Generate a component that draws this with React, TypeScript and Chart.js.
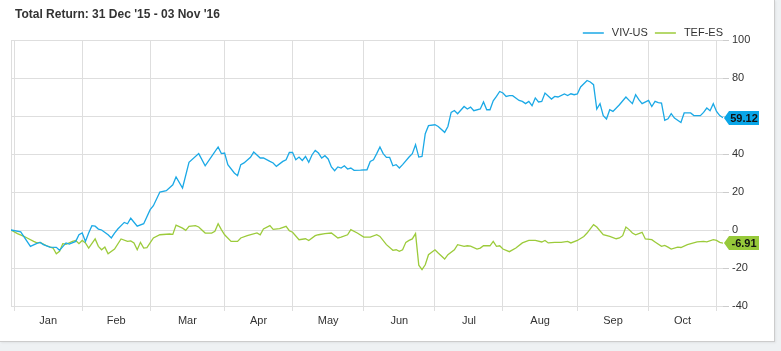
import { useEffect, useRef } from 'react';
import { Chart, registerables } from 'chart.js';

Chart.register(...registerables);

const chartTitle = "Total Return: 31 Dec '15 - 03 Nov '16";
const seriesNames = ['VIV-US', 'TEF-ES'];
const monthLabels = ['Jan', 'Feb', 'Mar', 'Apr', 'May', 'Jun', 'Jul', 'Aug', 'Sep', 'Oct'];
// trading-day index of the first trading day of each month (day 0 = 31 Dec '15)
const monthStartDays = [1, 22, 43, 66, 87, 109, 131, 152, 175, 197, 218];
const lastDay = 220;
const yMin = -40;
const yMax = 100;
const yStep = 20;

const vivDays = [
  0, 3, 6, 8, 9, 10, 12, 14, 15, 17,
  18, 20, 21, 22, 23, 24, 25, 26, 27, 28,
  30, 31, 32, 33, 35, 36, 37, 39, 41, 43,
  44, 46, 48, 50, 51, 53, 55, 58, 60, 62,
  64, 65, 66, 67, 69, 70, 71, 72, 74, 75,
  77, 78, 80, 81, 82, 84, 85, 86, 87, 88,
  89, 90, 91, 92, 93, 94, 95, 96, 97, 98,
  99, 100, 101, 102, 103, 104, 105, 106, 108, 110,
  111, 112, 113, 114, 115, 116, 117, 118, 119, 120,
  121, 123, 124, 125, 126, 127, 128, 129, 131, 132,
  134, 135, 136, 137, 138, 140, 141, 142, 143, 145,
  146, 147, 148, 149, 150, 151, 152, 153, 154, 155,
  157, 158, 159, 160, 161, 162, 163, 164, 165, 167,
  168, 169, 171, 172, 173, 174, 175, 176, 178, 179,
  180, 181, 182, 183, 184, 185, 186, 188, 190, 191,
  192, 193, 194, 195, 197, 198, 199, 200, 201, 202,
  203, 204, 205, 207, 208, 210, 211, 213, 214, 215,
  216, 217, 218, 219, 220,
];
const vivValues = [
  0, -1, -8.6, -7, -6.5, -7.7, -9, -9.1, -10.7, -6.8,
  -7.4, -6, -2.5, -1.6, -6, -1.6, 2.3, 2.0, 0.5, 0,
  -2.5, -4.2, -1.6, 0.5, 4, 3.3, 6.2, 2, 3.3, 10.7,
  12.8, 20, 20.7, 23.8, 27.9, 22.1, 35.6, 40.2, 33.8, 38.7,
  43.7, 40.2, 40.5, 34.4, 30, 28.6, 34.4, 35.3, 38.3, 41,
  37.9, 37.9, 36.1, 35.3, 33.5, 36.1, 37, 40.8, 40.8, 37,
  38.4, 36.6, 38.7, 35.6, 39.5, 41.9, 40.5, 37.9, 39.1, 37.4,
  33.2, 31.2, 33.2, 32.6, 33.8, 32.1, 32.6, 31.4, 31.5, 31.7,
  36.1, 37, 40.2, 43.7, 40.2, 38.2, 38.2, 33.8, 34.4, 32.6,
  34.4, 38.4, 40.2, 44.9, 38.4, 38.7, 50.7, 54.9, 55.4, 54.5,
  51.4, 54.5, 61.9, 62.9, 61.2, 65, 63.7, 64.7, 62.8, 63.7,
  67.4, 63.3, 63.3, 68, 70.3, 72.9, 72.1, 70.3, 70.7, 70.7,
  68.2, 67.7, 66.5, 67.7, 65.4, 69.5, 67.4, 67.7, 72.1, 68.9,
  70.3, 70, 71.6, 70.8, 71.7, 71.2, 71.6, 75.3, 78.7, 77.9,
  76.5, 63.7, 66.5, 60.2, 58.4, 63.3, 62.4, 65.9, 70, 68.2,
  66.5, 71.2, 68.6, 66.5, 68.2, 65, 67.7, 67, 66.8, 57.7,
  58.5, 61.2, 58.9, 56.6, 61.6, 61.6, 60.2, 60.2, 61.9, 64.2,
  62.8, 66.5, 62.4, 60.2, 59.12,
];

const tefDays = [
  0, 2, 4, 5, 7, 8, 9, 11, 13, 14,
  15, 16, 17, 19, 20, 21, 22, 23, 24, 26,
  27, 28, 29, 30, 32, 34, 36, 37, 38, 39,
  40, 41, 42, 44, 46, 49, 50, 51, 53, 54,
  55, 57, 58, 60, 62, 63, 64, 65, 66, 68,
  70, 71, 73, 76, 77, 78, 80, 81, 83, 85,
  86, 87, 89, 91, 92, 94, 95, 97, 99, 101,
  102, 104, 105, 107, 109, 111, 113, 114, 116, 118,
  119, 120, 121, 122, 123, 124, 125, 126, 127, 128,
  129, 131, 132, 134, 135, 137, 138, 140, 141, 142,
  144, 145, 146, 148, 149, 150, 151, 152, 154, 156,
  158, 160, 162, 164, 165, 166, 168, 170, 172, 173,
  175, 177, 178, 180, 181, 183, 185, 187, 188, 189,
  190, 191, 192, 193, 195, 196, 198, 199, 201, 202,
  203, 204, 206, 207, 209, 212, 214, 215, 217, 218,
  219, 220,
];
const tefValues = [
  0, -1.9, -3.4, -4.2, -6, -6.8, -6.5, -8.3, -9.5, -12.5,
  -11.2, -7.2, -7.5, -6, -5.5, -7.2, -5.5, -6.8, -9.5, -4.7,
  -8.6, -10.4, -9, -12.5, -10, -4.7, -6, -5.7, -6.8, -10.4,
  -6.5, -9.5, -9.3, -4.2, -2.5, -2.1, -2.3, 2.6, 1, -0.2,
  1.9, 2.3, 1.6, -1.6, -1.6, -0.7, 3.3, 0.2, -2.5, -6,
  -6, -4.2, -3, -1.5, -2.5, 0.5, 2.3, 0.3, 0.7, 1.9,
  -0.4, -1.2, -5.1, -4.6, -5.5, -3, -2.5, -1.9, -1.6, -4.2,
  -3.7, -2.5, 0.2, -1.6, -3.7, -3.7, -2.5, -3.4, -7.7, -10.7,
  -10.4, -11.2, -10.4, -6.5, -5.5, -4.7, -1.9, -18.5, -20.9, -18.3,
  -13, -10.4, -12.1, -15.3, -13, -10.4, -7.7, -8.6, -8.3, -8.5,
  -10, -9.5, -8.3, -8.3, -6, -8.6, -8.3, -10, -11.4, -9.5,
  -6.8, -5.5, -5.5, -6.3, -5.5, -6.8, -6.5, -6.5, -6, -6.8,
  -5.5, -3.4, -1.6, 2.8, 1.6, -2.5, -3.4, -4.6, -4.2, -3,
  1.6, 0.2, -1.6, -2.5, -1.2, -4.7, -5.1, -6.3, -8.6, -8.1,
  -9, -10, -9, -9.2, -7.7, -6.3, -6, -6.2, -5.1, -5.5,
  -6.5, -6.91,
];

const lineColors = ['#1ba9e6', '#9ccb3b'];
const badgeColors = ['#0aa6e8', '#97c93a'];

const FONT = '"Liberation Sans", Arial, Helvetica, sans-serif';
const GRID = '#dedede';
const TEXT = '#333333';

const monthMids = monthLabels.map((_, i) => (monthStartDays[i] + monthStartDays[i + 1]) / 2);
const xTickValues = [0, ...monthStartDays, ...monthMids].sort((a, b) => a - b);
const isBoundary = (v: number) => monthStartDays.includes(v);

const overlayPlugin = {
  id: 'overlay',
  afterDraw(chart: any) {
    const { ctx, chartArea, scales } = chart;
    ctx.save();
    // title
    ctx.font = `bold 12px ${FONT}`;
    ctx.fillStyle = TEXT;
    ctx.textBaseline = 'middle';
    ctx.textAlign = 'left';
    ctx.fillText(chartTitle, 15, 15);

    // legend (right aligned to plot area)
    ctx.font = `11px ${FONT}`;
    let x = chartArea.right;
    const ly = 33;
    const gaps = [6, 7];
    for (let i = chart.data.datasets.length - 1; i >= 0; i--) {
      const ds = chart.data.datasets[i];
      const w = ctx.measureText(ds.label).width;
      x -= w;
      ctx.fillStyle = TEXT;
      ctx.textAlign = 'left';
      ctx.fillText(ds.label, x, ly);
      x -= 8;
      ctx.strokeStyle = ds.borderColor;
      ctx.lineWidth = 1.5;
      ctx.beginPath();
      ctx.moveTo(x - 21, ly);
      ctx.lineTo(x, ly);
      ctx.stroke();
      x -= 21 + gaps[i];
    }

    // last-value badges
    chart.data.datasets.forEach((ds: any, i: number) => {
      const last = ds.data[ds.data.length - 1];
      const cy = Math.round(scales.y.getPixelForValue(last.y));
      const left = chartArea.right + 1;
      const right = left + 35;
      const h = 7;
      ctx.fillStyle = badgeColors[i];
      ctx.beginPath();
      ctx.moveTo(left, cy);
      ctx.lineTo(left + 5, cy - h);
      ctx.lineTo(right, cy - h);
      ctx.lineTo(right, cy + h);
      ctx.lineTo(left + 5, cy + h);
      ctx.closePath();
      ctx.fill();
      ctx.fillStyle = '#111';
      ctx.font = `bold 11px ${FONT}`;
      ctx.textAlign = 'center';
      ctx.textBaseline = 'middle';
      ctx.fillText(last.y.toFixed(2), left + 20, cy + 0.5);
    });
    ctx.restore();
  },
};

export default function App() {
  const ref = useRef<HTMLCanvasElement>(null);

  useEffect(() => {
    if (!ref.current) return;
    const chart = new Chart(ref.current, {
      type: 'line',
      data: {
        datasets: [
          {
            label: seriesNames[0],
            data: vivDays.map((d, i) => ({ x: d, y: vivValues[i] })),
            borderColor: lineColors[0],
            backgroundColor: lineColors[0],
            borderWidth: 1.3,
            pointRadius: 0,
            tension: 0,
          },
          {
            label: seriesNames[1],
            data: tefDays.map((d, i) => ({ x: d, y: tefValues[i] })),
            borderColor: lineColors[1],
            backgroundColor: lineColors[1],
            borderWidth: 1.3,
            pointRadius: 0,
            tension: 0,
          },
        ],
      },
      options: {
        responsive: false,
        animation: false,
        layout: { padding: { left: 11, top: 40, right: 0, bottom: 0 } },
        plugins: {
          legend: { display: false },
          title: { display: false },
          tooltip: { enabled: false },
        },
        scales: {
          x: {
            type: 'linear',
            min: 0,
            max: lastDay,
            afterBuildTicks: (scale: any) => {
              scale.ticks = xTickValues.map((v) => ({ value: v }));
            },
            afterFit: (scale: any) => {
              scale.height = 35;
            },
            border: { display: false },
            grid: {
              color: (c: any) => (c.tick && (isBoundary(c.tick.value) || c.tick.value === 0) ? GRID : 'rgba(0,0,0,0)'),
              tickColor: (c: any) => (c.tick && isBoundary(c.tick.value) ? GRID : 'rgba(0,0,0,0)'),
              tickLength: 5,
            },
            ticks: {
              autoSkip: false,
              maxRotation: 0,
              padding: 3,
              color: TEXT,
              font: { family: FONT, size: 11 },
              callback: (v: any) => {
                const idx = monthMids.indexOf(Number(v));
                return idx >= 0 ? monthLabels[idx] : '';
              },
            },
          },
          y: {
            position: 'right',
            min: yMin,
            max: yMax,
            afterFit: (scale: any) => {
              scale.width = 51;
            },
            border: { display: false },
            grid: { color: GRID, tickColor: '#cccccc', tickLength: 6 },
            ticks: {
              stepSize: yStep,
              padding: 3,
              color: TEXT,
              font: { family: FONT, size: 11 },
            },
          },
        },
      },
      plugins: [overlayPlugin],
    } as any);
    return () => chart.destroy();
  }, []);

  return (
    <div style={{ position: 'fixed', left: 0, top: 0, width: 781, height: 351, background: '#eef1f3' }}>
      <div
        style={{
          position: 'absolute',
          left: 0,
          top: 0,
          width: 774,
          height: 341,
          background: '#ffffff',
          borderRight: '1px solid #cccccc',
          borderBottom: '1px solid #cccccc',
          boxShadow: '1px 1px 2px rgba(0,0,0,0.06)',
        }}
      >
        <canvas ref={ref} width={774} height={341} style={{ display: 'block' }} />
      </div>
    </div>
  );
}
